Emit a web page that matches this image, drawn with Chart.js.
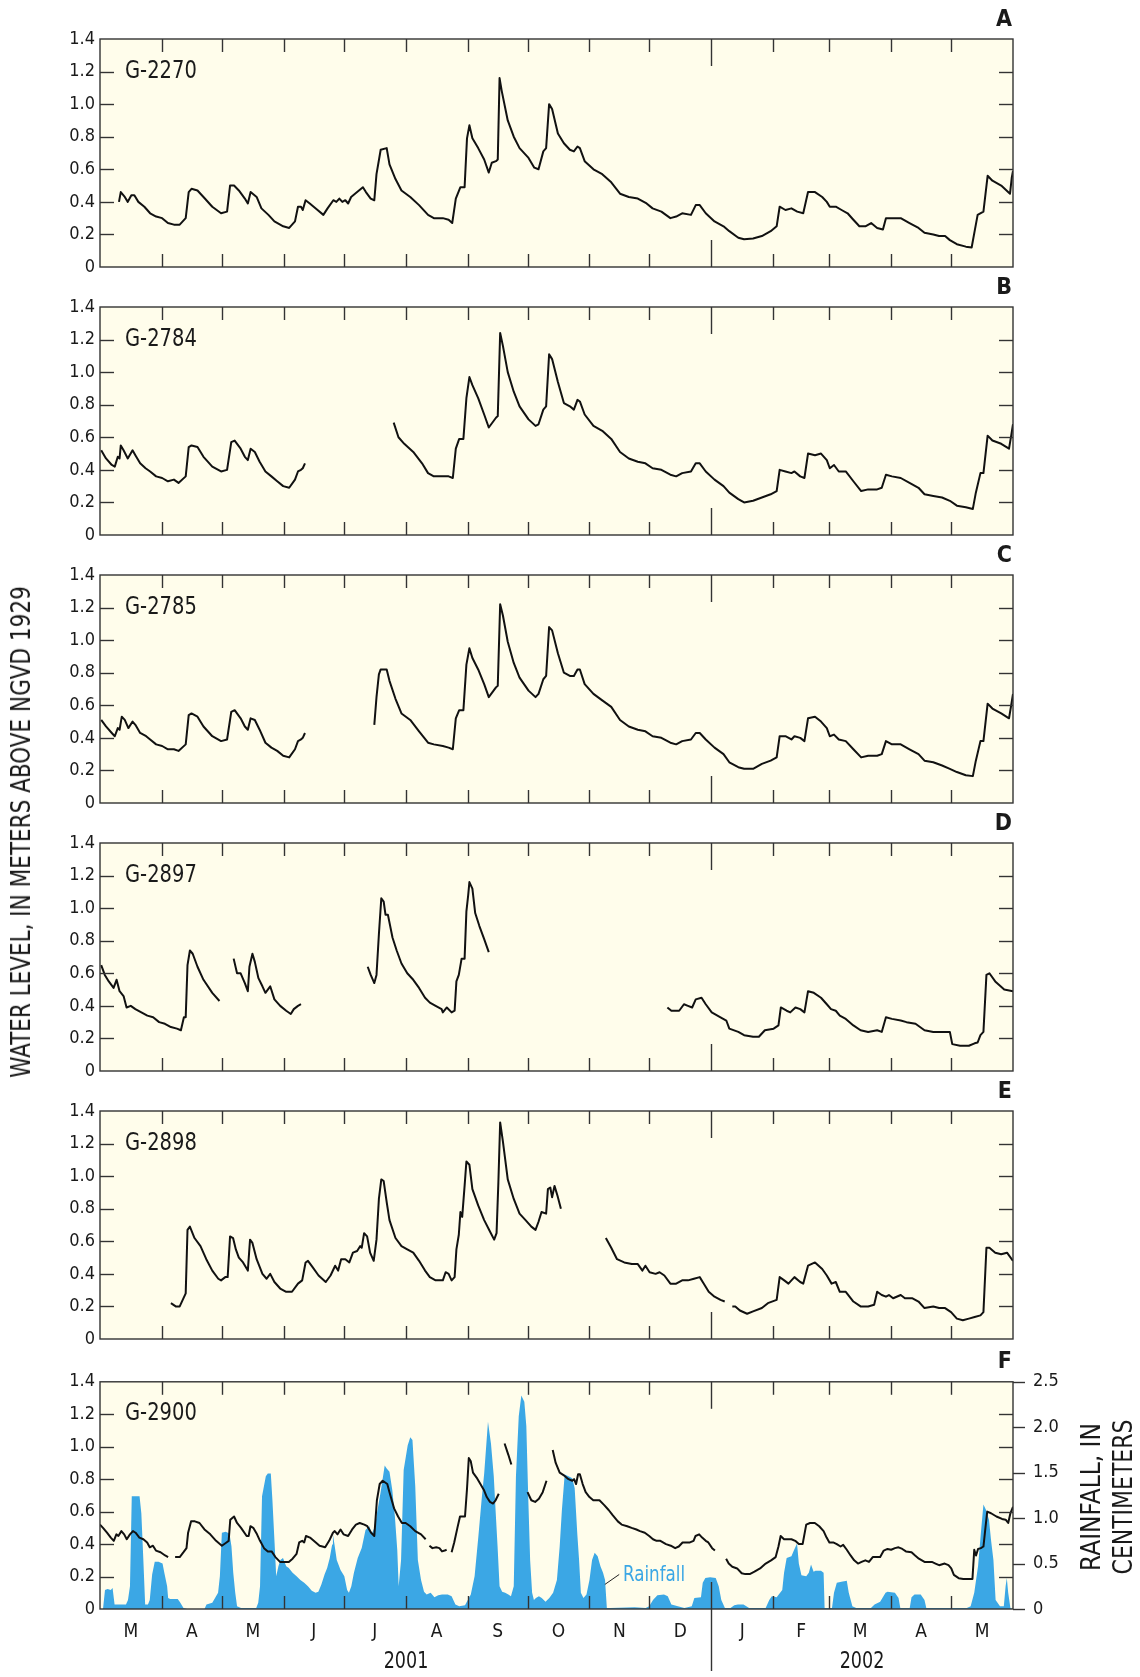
<!DOCTYPE html>
<html lang="en">
<head>
<meta charset="UTF-8">
<title>Water levels and rainfall, March 2001 to May 2002</title>
<script src="https://cdn.jsdelivr.net/npm/chart.js"></script>
<style>
  body {
    margin: 0;
    width: 1140px;
    height: 1677px;
    position: relative;
    overflow: hidden;
    background: #fff;
  }
  canvas { position: absolute; left: 0; }
  .txt {
    position: absolute;
    white-space: nowrap;
    line-height: 1;
    transform-origin: 0 0;
  }
</style>
</head>
<body>
<canvas id="p0"></canvas>
<canvas id="p1"></canvas>
<canvas id="p2"></canvas>
<canvas id="p3"></canvas>
<canvas id="p4"></canvas>
<canvas id="p5"></canvas>
<script>
// ---- axis setup: days counted from 1 March 2001 ----
const monthStart = [0, 31, 61, 92, 122, 153, 184, 214, 245, 275, 306, 337, 365, 396, 426, 457];
const monthNames = ['M', 'A', 'M', 'J', 'J', 'A', 'S', 'O', 'N', 'D', 'J', 'F', 'M', 'A', 'M'];
const yearNames = ['2001', '2002'];
const yearStart = 306;
const levelTicks = [0, 0.2, 0.4, 0.6, 0.8, 1.0, 1.2, 1.4];
const rainTicks = [0, 0.5, 1.0, 1.5, 2.0, 2.5];
const panelLetters = ['A', 'B', 'C', 'D', 'E', 'F'];
const stations = ['G-2270', 'G-2784', 'G-2785', 'G-2897', 'G-2898', 'G-2900'];

// ---- water level, meters above NGVD 1929: [day, level] ----
const g2270 = [[9.5,0.40],[10.4,0.46],[12.4,0.43],[13.9,0.40],[15.7,0.44],[17.2,0.44],[19.2,0.40],[22.2,0.37],[25.1,0.33],[28.1,0.31],[31.1,0.30],[34.0,0.27],[37.0,0.26],[39.9,0.26],[42.9,0.30],[44.4,0.46],[45.8,0.48],[48.8,0.47],[51.8,0.43],[56.2,0.37],[60.6,0.33],[63.6,0.34],[65.1,0.50],[67.1,0.50],[69.5,0.47],[72.5,0.42],[74.0,0.39],[75.4,0.46],[78.4,0.43],[80.8,0.36],[84.3,0.32],[87.3,0.28],[91.7,0.25],[94.7,0.24],[97.6,0.28],[99.1,0.37],[100.6,0.37],[101.5,0.35],[102.9,0.41],[105.0,0.39],[108.9,0.35],[111.8,0.32],[113.9,0.36],[116.8,0.41],[118.3,0.40],[119.8,0.42],[121.3,0.40],[122.8,0.41],[124.2,0.39],[125.7,0.43],[128.7,0.46],[131.6,0.49],[133.1,0.46],[135.5,0.42],[137.3,0.41],[138.4,0.57],[140.5,0.72],[143.5,0.73],[144.9,0.63],[147.9,0.54],[150.9,0.47],[155.3,0.43],[159.7,0.38],[164.2,0.32],[167.1,0.30],[171.6,0.30],[174.5,0.29],[176.3,0.27],[178.1,0.42],[180.4,0.49],[182.5,0.49],[183.7,0.79],[184.9,0.87],[186.4,0.79],[189.3,0.73],[192.3,0.66],[194.6,0.58],[196.1,0.64],[198.2,0.65],[199.1,0.66],[200.0,1.16],[201.1,1.08],[204.1,0.90],[207.1,0.80],[210.0,0.73],[214.5,0.67],[217.4,0.61],[219.5,0.60],[221.9,0.71],[223.3,0.73],[224.8,1.00],[226.3,0.97],[229.2,0.82],[232.2,0.76],[235.2,0.72],[237.2,0.71],[239.0,0.74],[240.2,0.73],[242.6,0.65],[247.0,0.60],[251.4,0.57],[255.9,0.52],[260.3,0.45],[264.7,0.43],[269.2,0.42],[273.6,0.39],[276.6,0.36],[281.0,0.34],[285.5,0.30],[288.4,0.31],[291.4,0.33],[295.8,0.32],[298.2,0.38],[300.2,0.38],[303.2,0.33],[307.6,0.28],[312.1,0.25],[315.0,0.22],[319.5,0.18],[322.4,0.17],[326.9,0.175],[331.3,0.19],[335.7,0.22],[338.7,0.25],[340.2,0.37],[343.1,0.35],[346.1,0.36],[349.0,0.34],[352.0,0.33],[354.4,0.46],[357.9,0.46],[361.5,0.43],[363.8,0.40],[365.3,0.37],[368.3,0.37],[371.2,0.35],[374.2,0.33],[377.1,0.29],[380.1,0.25],[383.1,0.25],[386.0,0.27],[389.0,0.24],[391.9,0.23],[393.4,0.30],[396.4,0.30],[400.8,0.30],[405.2,0.27],[409.7,0.24],[412.7,0.21],[417.1,0.20],[420.0,0.19],[423.0,0.19],[425.4,0.165],[428.9,0.14],[433.4,0.125],[436.3,0.12],[437.8,0.22],[439.3,0.32],[442.2,0.34],[444.3,0.56],[446.7,0.53],[451.1,0.50],[455.5,0.45],[456.4,0.55],[457,0.59]];

const g2784 = [[0.6,0.52],[3.0,0.47],[5.9,0.43],[7.4,0.42],[8.9,0.48],[9.8,0.47],[10.4,0.55],[11.8,0.52],[13.9,0.47],[16.3,0.52],[17.7,0.49],[20.1,0.44],[22.8,0.41],[25.1,0.39],[28.1,0.36],[31.1,0.35],[34.0,0.33],[37.0,0.34],[39.3,0.32],[42.9,0.36],[44.4,0.54],[45.8,0.55],[48.8,0.54],[51.8,0.48],[56.2,0.42],[60.6,0.39],[63.6,0.40],[65.7,0.57],[67.4,0.58],[70.4,0.53],[72.5,0.48],[74.0,0.46],[75.4,0.53],[77.5,0.51],[79.9,0.45],[82.8,0.39],[85.8,0.36],[88.7,0.33],[91.7,0.30],[94.7,0.29],[97.6,0.34],[99.1,0.39],[100.6,0.40],[101.5,0.41],[102.6,0.44],
  [125,null],
  [147.0,0.69],[149.4,0.60],[152.3,0.56],[156.8,0.51],[161.2,0.44],[164.2,0.38],[167.1,0.36],[171.6,0.36],[174.5,0.36],[176.6,0.35],[178.1,0.53],[179.8,0.59],[181.9,0.59],[183.4,0.84],[184.9,0.97],[186.4,0.92],[189.3,0.84],[192.3,0.74],[194.6,0.66],[195.8,0.68],[198.2,0.72],[199.1,0.73],[200.3,1.24],[201.7,1.16],[204.1,1.00],[207.1,0.88],[210.0,0.79],[214.5,0.71],[218.0,0.67],[219.5,0.68],[221.9,0.77],[223.3,0.79],[224.8,1.11],[226.3,1.08],[229.2,0.94],[232.2,0.81],[235.2,0.79],[237.2,0.77],[239.0,0.83],[240.2,0.82],[242.6,0.74],[247.0,0.67],[251.4,0.64],[255.9,0.59],[260.3,0.51],[264.7,0.47],[269.2,0.45],[273.0,0.44],[276.6,0.41],[281.0,0.40],[285.5,0.37],[288.4,0.36],[291.4,0.38],[295.8,0.39],[298.2,0.44],[300.2,0.44],[303.2,0.39],[307.6,0.34],[312.1,0.30],[315.0,0.26],[319.5,0.22],[322.4,0.20],[326.9,0.21],[331.3,0.23],[335.7,0.25],[338.7,0.27],[340.2,0.40],[343.1,0.39],[346.1,0.38],[347.6,0.39],[350.5,0.36],[352.6,0.35],[354.4,0.50],[357.9,0.49],[360.9,0.50],[363.8,0.46],[365.3,0.41],[367.4,0.43],[369.8,0.39],[373.3,0.39],[377.1,0.33],[381.0,0.27],[384.5,0.28],[389.0,0.28],[391.3,0.29],[393.4,0.37],[396.4,0.36],[400.8,0.35],[405.2,0.32],[409.7,0.29],[412.7,0.25],[417.1,0.24],[421.5,0.23],[425.4,0.21],[428.9,0.18],[433.4,0.17],[436.9,0.16],[438.4,0.26],[440.7,0.38],[442.2,0.38],[444.3,0.61],[446.7,0.58],[451.1,0.56],[455.0,0.53],[456.1,0.61],[457,0.68]];

const g2785 = [[0.6,0.51],[3.0,0.47],[5.9,0.43],[7.4,0.41],[8.9,0.46],[9.8,0.45],[10.9,0.53],[12.4,0.51],[14.2,0.46],[16.3,0.50],[17.7,0.48],[20.1,0.43],[23.1,0.41],[25.1,0.39],[28.1,0.36],[31.1,0.35],[34.0,0.33],[37.0,0.33],[39.3,0.32],[42.9,0.36],[44.4,0.54],[45.8,0.55],[48.8,0.53],[51.8,0.47],[56.2,0.41],[60.6,0.38],[63.6,0.39],[65.7,0.56],[67.4,0.57],[70.4,0.52],[72.5,0.47],[74.0,0.45],[75.4,0.52],[77.5,0.51],[79.9,0.45],[82.8,0.37],[85.8,0.34],[88.7,0.32],[91.7,0.29],[94.7,0.28],[97.6,0.33],[99.1,0.38],[100.6,0.39],[101.5,0.40],[102.6,0.43],
  [120,null],
  [137.3,0.48],[138.4,0.65],[139.6,0.79],[140.5,0.82],[143.5,0.82],[144.9,0.75],[147.9,0.64],[150.9,0.55],[155.3,0.51],[159.7,0.44],[164.2,0.37],[167.1,0.36],[171.6,0.35],[174.5,0.34],[176.6,0.33],[178.1,0.52],[179.8,0.57],[181.9,0.57],[183.4,0.85],[184.9,0.95],[186.4,0.89],[189.3,0.82],[192.3,0.73],[194.6,0.65],[195.8,0.67],[198.2,0.71],[199.1,0.72],[200.3,1.22],[201.7,1.15],[204.1,0.99],[207.1,0.86],[210.0,0.77],[214.5,0.69],[218.0,0.65],[219.5,0.67],[221.9,0.76],[223.3,0.78],[224.8,1.08],[226.3,1.06],[229.2,0.92],[232.2,0.80],[235.2,0.78],[237.2,0.78],[239.0,0.82],[240.2,0.82],[242.6,0.73],[247.0,0.67],[251.4,0.63],[255.9,0.59],[260.3,0.51],[264.7,0.47],[269.2,0.45],[273.0,0.44],[276.6,0.41],[281.0,0.40],[285.5,0.37],[288.4,0.36],[291.4,0.38],[295.8,0.39],[298.2,0.43],[300.2,0.43],[303.2,0.39],[307.6,0.34],[312.1,0.30],[315.0,0.25],[319.5,0.22],[322.4,0.21],[326.9,0.21],[331.3,0.24],[335.7,0.26],[338.7,0.28],[340.2,0.41],[343.1,0.41],[346.1,0.39],[347.6,0.41],[350.5,0.40],[352.6,0.38],[354.4,0.52],[357.9,0.53],[360.9,0.50],[363.8,0.46],[365.3,0.41],[367.4,0.42],[369.8,0.39],[373.3,0.38],[377.1,0.33],[381.0,0.28],[384.5,0.29],[389.0,0.29],[391.3,0.30],[393.4,0.38],[396.4,0.36],[400.8,0.36],[405.2,0.33],[409.7,0.30],[412.7,0.26],[417.1,0.25],[421.5,0.23],[425.4,0.21],[428.9,0.19],[433.4,0.17],[436.9,0.165],[438.4,0.26],[440.7,0.38],[442.2,0.38],[444.3,0.61],[446.7,0.58],[451.1,0.55],[455.0,0.52],[456.1,0.60],[457,0.67]];

const g2897 = [[0.6,0.65],[2.4,0.59],[4.4,0.55],[6.8,0.51],[8.3,0.56],[9.8,0.49],[11.8,0.46],[13.3,0.39],[15.4,0.40],[17.7,0.38],[20.7,0.36],[23.7,0.34],[26.6,0.33],[29.6,0.30],[32.5,0.29],[35.5,0.27],[38.5,0.26],[40.5,0.25],[42.0,0.33],[42.9,0.33],[43.8,0.65],[45.0,0.74],[46.4,0.72],[48.8,0.64],[51.8,0.56],[56.2,0.48],[59.8,0.43],
  [63,null],
  [66.9,0.69],[68.6,0.60],[70.4,0.60],[72.5,0.54],[74.0,0.49],[74.8,0.64],[76.3,0.72],[77.5,0.67],[79.3,0.57],[81.3,0.52],[82.8,0.48],[85.2,0.52],[87.3,0.44],[90.2,0.40],[93.2,0.37],[95.5,0.35],[97.0,0.38],[99.1,0.40],[100.6,0.41],
  [118,null],
  [134.0,0.64],[135.5,0.59],[137.3,0.54],[138.4,0.59],[139.6,0.84],[140.8,1.06],[142.0,1.04],[142.9,0.96],[144.1,0.96],[146.4,0.82],[148.5,0.74],[150.9,0.66],[153.8,0.60],[156.8,0.56],[159.7,0.51],[162.7,0.45],[165.1,0.42],[168.0,0.40],[171.0,0.38],[171.6,0.36],[173.6,0.39],[176.0,0.36],[177.5,0.37],[178.4,0.55],[179.6,0.59],[181.0,0.69],[182.5,0.69],[183.4,0.98],[184.3,1.08],[184.9,1.16],[186.4,1.12],[187.8,0.97],[189.9,0.89],[192.3,0.81],[194.6,0.73],
  [240,null],
  [284.0,0.39],[286.0,0.37],[289.9,0.37],[292.3,0.41],[294.3,0.40],[296.4,0.39],[298.2,0.44],[301.1,0.45],[303.2,0.41],[306.2,0.36],[310.6,0.33],[313.5,0.31],[315.0,0.26],[319.5,0.24],[322.4,0.22],[326.9,0.21],[329.8,0.21],[332.8,0.25],[337.2,0.26],[339.6,0.28],[340.8,0.39],[343.7,0.37],[345.5,0.36],[348.1,0.39],[350.5,0.38],[352.6,0.36],[354.4,0.49],[357.3,0.48],[360.9,0.45],[363.8,0.41],[365.9,0.38],[368.3,0.37],[370.3,0.34],[373.3,0.32],[377.1,0.28],[380.7,0.25],[384.5,0.24],[389.0,0.25],[391.3,0.24],[393.4,0.33],[396.4,0.32],[400.8,0.31],[403.7,0.30],[408.2,0.29],[412.7,0.25],[417.1,0.24],[421.5,0.24],[425.4,0.24],[426.6,0.165],[430.5,0.155],[434.9,0.155],[437.8,0.17],[439.3,0.175],[440.7,0.22],[442.2,0.24],[443.7,0.59],[445.2,0.60],[448.1,0.55],[452.6,0.50],[457,0.49]];

const g2898 = [[35.5,0.22],[37.9,0.20],[39.9,0.20],[41.4,0.24],[42.9,0.28],[43.8,0.67],[45.0,0.69],[47.3,0.62],[50.3,0.57],[53.2,0.49],[56.2,0.42],[59.2,0.37],[60.6,0.36],[62.7,0.38],[63.9,0.38],[65.1,0.63],[66.6,0.62],[68.0,0.55],[69.5,0.50],[71.6,0.47],[74.0,0.42],[75.1,0.61],[76.3,0.59],[78.4,0.49],[81.3,0.40],[83.4,0.37],[85.2,0.40],[87.3,0.35],[90.2,0.31],[93.2,0.29],[96.1,0.29],[99.1,0.34],[101.2,0.36],[102.9,0.47],[104.1,0.48],[106.5,0.44],[109.4,0.39],[113.0,0.35],[115.4,0.39],[117.7,0.45],[119.2,0.42],[120.7,0.49],[122.8,0.49],[124.8,0.47],[126.6,0.53],[128.7,0.54],[130.2,0.57],[131.0,0.56],[132.2,0.65],[133.7,0.63],[135.2,0.53],[137.0,0.48],[138.4,0.61],[139.6,0.86],[140.8,0.98],[142.0,0.97],[143.5,0.84],[144.9,0.73],[147.9,0.62],[150.9,0.57],[153.8,0.55],[156.8,0.53],[159.7,0.48],[162.7,0.42],[165.1,0.38],[168.0,0.36],[171.6,0.36],[173.0,0.41],[174.5,0.40],[176.0,0.36],[177.5,0.38],[178.4,0.55],[179.6,0.64],[180.4,0.78],[181.3,0.75],[182.5,0.94],[183.4,1.09],[184.9,1.07],[186.4,0.92],[189.3,0.82],[192.3,0.73],[195.2,0.66],[197.3,0.61],[198.5,0.65],[199.4,0.96],[200.3,1.33],[201.7,1.21],[204.1,0.98],[207.1,0.86],[210.0,0.77],[213.0,0.73],[215.9,0.69],[218.0,0.67],[219.5,0.72],[221.0,0.78],[223.3,0.77],[224.2,0.92],[225.4,0.93],[226.3,0.87],[227.5,0.94],[229.0,0.88],[230.7,0.80],
  [240,null],
  [253.2,0.62],[255.9,0.56],[258.8,0.49],[262.4,0.47],[266.2,0.46],[269.2,0.46],[271.5,0.42],[273.0,0.45],[275.1,0.41],[278.1,0.40],[280.1,0.41],[282.5,0.39],[285.5,0.34],[288.4,0.34],[291.4,0.36],[294.3,0.36],[297.3,0.37],[300.2,0.38],[301.7,0.35],[304.7,0.29],[307.6,0.26],[310.6,0.24],[312.7,0.23],
  [314.5,null],
  [316.5,0.20],[318.0,0.20],[320.3,0.175],[323.9,0.155],[326.9,0.17],[331.3,0.19],[334.3,0.22],[338.7,0.24],[340.2,0.38],[342.5,0.36],[344.6,0.34],[347.6,0.38],[350.5,0.35],[352.0,0.34],[354.4,0.45],[357.9,0.47],[361.5,0.43],[363.8,0.39],[366.2,0.34],[368.3,0.35],[370.3,0.29],[373.3,0.29],[377.1,0.23],[380.7,0.20],[384.5,0.20],[387.5,0.21],[389.0,0.29],[391.3,0.27],[393.4,0.26],[394.9,0.27],[397.0,0.25],[400.8,0.27],[402.9,0.25],[406.7,0.25],[409.7,0.23],[412.7,0.19],[417.1,0.20],[420.0,0.19],[423.0,0.19],[426.0,0.165],[428.9,0.125],[431.9,0.115],[434.9,0.125],[437.8,0.135],[440.7,0.145],[442.2,0.165],[443.7,0.56],[445.2,0.56],[448.1,0.53],[451.1,0.52],[454.0,0.53],[457,0.48]];

const g2900 = [[0,0.52],[1.5,0.50],[3.5,0.47],[5.4,0.44],[6.9,0.42],[8.2,0.46],[9.2,0.45],[10.7,0.48],[12.1,0.46],[13.4,0.43],[15.0,0.46],[16.5,0.48],[17.8,0.47],[19.7,0.44],[21.7,0.43],[23.6,0.41],[24.9,0.38],[26.5,0.39],[28.0,0.36],[30.3,0.35],[32.6,0.33],[34.1,0.32],
  [36,null],
  [37.6,0.32],[39.9,0.32],[41.8,0.35],[43.3,0.375],[44.1,0.47],[45.6,0.54],[47.5,0.54],[49.8,0.53],[52.3,0.49],[55.2,0.46],[58.1,0.42],[61.0,0.39],[63.3,0.41],[64.4,0.42],[65.2,0.55],[67.1,0.57],[68.6,0.53],[70.6,0.50],[73.4,0.45],[74.4,0.45],[75.3,0.51],[76.7,0.50],[78.6,0.46],[80.1,0.42],[82.1,0.375],[84.0,0.355],[85.9,0.355],[87.8,0.32],[90.1,0.29],[92.0,0.29],[94.5,0.29],[96.4,0.31],[98.4,0.34],[99.7,0.41],[101.2,0.42],[102.2,0.41],[103.1,0.45],[105.1,0.44],[107.0,0.42],[109.9,0.39],[112.7,0.38],[114.7,0.42],[116.6,0.47],[117.5,0.48],[118.9,0.46],[120.4,0.49],[121.9,0.46],[124.2,0.45],[126.2,0.49],[128.1,0.52],[130.0,0.53],[132.3,0.52],[133.8,0.51],[135.7,0.47],[137.3,0.45],[138.6,0.67],[140.0,0.77],[141.5,0.79],[143.8,0.77],[144.9,0.72],[147.2,0.62],[149.2,0.57],[151.1,0.53],[153.0,0.53],[155.3,0.51],[157.8,0.48],[160.7,0.46],[163.0,0.43],
  [164,null],
  [164.9,0.39],[166.4,0.375],[168.3,0.38],[169.9,0.375],[171.2,0.355],[172.5,0.36],[173.5,0.365],
  [175,null],
  [176.0,0.35],[177.3,0.41],[178.9,0.50],[180.2,0.57],[181.7,0.57],[182.7,0.57],[183.7,0.74],[184.6,0.93],[185.6,0.91],[186.7,0.84],[188.5,0.81],[190.4,0.77],[192.3,0.73],[193.6,0.69],[195.2,0.66],[196.7,0.65],[198.0,0.67],[199.6,0.71],
  [201,null],
  [202.5,1.02],[204.4,0.95],[205.9,0.89],
  [210,null],
  [214.0,0.72],[215.9,0.67],[217.8,0.66],[219.7,0.68],[221.6,0.72],[223.5,0.79],
  [225,null],
  [226.6,0.98],[228.1,0.90],[230.1,0.84],[232.6,0.82],[234.5,0.80],[236.4,0.79],[237.3,0.80],[238.3,0.77],[239.3,0.83],[240.2,0.83],[241.6,0.77],[243.1,0.72],[245.0,0.69],[246.9,0.67],[250.0,0.67],[252.4,0.64],[254.6,0.61],[256.5,0.58],[259.2,0.54],[261.1,0.52],[263.9,0.51],[266.1,0.50],[268.5,0.49],[270.3,0.48],[272.7,0.47],[274.9,0.45],[276.8,0.43],[278.6,0.42],[280.5,0.42],[283.3,0.40],[285.7,0.39],[287.9,0.375],[289.7,0.385],[291.6,0.41],[293.4,0.41],[295.3,0.41],[297.1,0.42],[298.1,0.45],[299.9,0.46],[301.4,0.44],[303.2,0.42],[304.5,0.41],[306.4,0.375],[307.8,0.36],
  [310,null],
  [313.4,0.31],[314.7,0.28],[316.5,0.26],[318.9,0.25],[321.2,0.22],[323.0,0.215],[325.2,0.215],[327.6,0.23],[330.4,0.25],[333.2,0.28],[335.9,0.30],[338.2,0.32],[339.6,0.385],[340.7,0.45],[342.4,0.43],[344.3,0.43],[346.1,0.43],[348.0,0.42],[349.8,0.40],[351.7,0.40],[353.5,0.52],[355.4,0.53],[357.8,0.53],[360.0,0.51],[362.2,0.48],[363.7,0.44],[365.1,0.41],[367.0,0.41],[368.8,0.40],[370.7,0.385],[372.0,0.395],[373.8,0.365],[375.7,0.33],[377.5,0.30],[379.4,0.28],[381.2,0.29],[383.1,0.30],[384.9,0.29],[386.8,0.32],[388.6,0.32],[390.5,0.32],[392.3,0.36],[394.2,0.37],[396.0,0.365],[397.9,0.375],[399.7,0.38],[401.6,0.37],[403.4,0.355],[406.2,0.35],[408.0,0.33],[409.9,0.31],[412.7,0.29],[414.5,0.29],[416.4,0.29],[418.2,0.28],[420.0,0.27],[422.8,0.28],[424.7,0.27],[426.1,0.25],[427.4,0.21],[429.8,0.19],[432.1,0.185],[434.8,0.185],[436.7,0.185],[437.6,0.365],[438.5,0.33],[439.5,0.37],[440.9,0.375],[442.2,0.385],[443.2,0.50],[444.1,0.60],[446.0,0.59],[448.7,0.57],[451.5,0.555],[453.3,0.55],[454.6,0.53],[455.7,0.59],[457,0.63]];

// ---- daily rainfall, centimeters: [day, rain] ----
const rainfall = [[0,0],[1.5,0],[2.5,0.21],[3.8,0.22],[5.4,0.21],[6.3,0.23],[7.3,0.05],[8.2,0.05],[13.0,0.05],[14.0,0.10],[15.0,0.25],[15.9,1.24],[17.8,1.24],[19.8,1.24],[20.7,1.05],[21.7,0.54],[22.6,0.05],[24.0,0.05],[24.9,0.10],[26.1,0.38],[27.4,0.52],[29.3,0.52],[31.3,0.50],[32.2,0.40],[33.6,0.25],[34.1,0.12],[35.1,0.11],[38.9,0.11],[39.9,0.08],[41.8,0.01],[43.7,0],[52.3,0],[53.3,0.05],[56.2,0.07],[59.1,0.18],[60.0,0.36],[61.0,0.84],[62.9,0.85],[64.8,0.83],[65.8,0.69],[66.7,0.40],[67.7,0.18],[68.6,0.03],[70.6,0.01],[78.2,0.01],[79.2,0.07],[80.1,0.25],[81.1,1.24],[83.0,1.46],[84.0,1.49],[85.5,1.49],[86.3,1.20],[87.4,0.72],[88.2,0.36],[89.3,0.47],[90.3,0.54],[91.6,0.56],[93.2,0.47],[94.5,0.45],[96.4,0.40],[98.4,0.36],[100.3,0.32],[102.2,0.29],[104.1,0.25],[106.0,0.20],[107.9,0.18],[109.3,0.19],[110.8,0.27],[112.4,0.38],[113.7,0.45],[115.0,0.56],[116.2,0.71],[116.6,0.82],[117.5,0.69],[118.5,0.54],[120.4,0.43],[122.3,0.36],[123.7,0.21],[124.6,0.18],[125.8,0.25],[127.1,0.40],[129.0,0.56],[131.0,0.67],[132.9,0.87],[134.8,0.91],[136.1,0.83],[137.7,0.91],[138.6,1.05],[140.5,1.29],[142.5,1.58],[143.4,1.55],[144.9,1.51],[146.3,1.31],[147.6,1.02],[148.8,0.65],[149.5,0.25],[150.7,0.54],[152.0,1.53],[154.0,1.80],[155.3,1.89],[156.4,1.86],[157.8,1.35],[159.1,0.54],[160.7,0.32],[162.2,0.19],[163.5,0.16],[165.5,0.18],[167.4,0.13],[169.3,0.15],[171.2,0.16],[174.1,0.16],[176.0,0.14],[177.9,0.05],[179.8,0.03],[182.7,0.04],[184.1,0.10],[185.6,0.16],[187.5,0.36],[189.4,0.80],[191.0,1.20],[192.3,1.49],[194.2,2.06],[195.7,1.82],[197.1,1.46],[198.0,1.09],[199.0,0.69],[200.0,0.25],[201.3,0.19],[202.8,0.18],[204.4,0.16],[205.7,0.14],[207.1,0.25],[208.2,1.46],[209.6,2.12],[210.9,2.35],[212.4,2.28],[213.4,2.01],[214.3,1.27],[215.3,0.54],[216.3,0.18],[217.2,0.10],[218.2,0.12],[219.7,0.14],[221.1,0.12],[223.0,0.08],[224.9,0.12],[226.8,0.18],[228.7,0.32],[230.1,0.69],[231.2,1.09],[232.6,1.48],[234.5,1.46],[236.4,1.44],[237.6,1.33],[238.9,0.83],[239.8,0.54],[240.7,0.18],[242.0,0.12],[243.5,0.16],[245.0,0.32],[246.3,0.54],[247.6,0.62],[249.1,0.58],[250.5,0.47],[251.8,0.40],[252.8,0.32],[253.7,0.01],[255.5,0.01],[267.6,0.02],[273.1,0.01],[274.9,0.03],[276.8,0.10],[279.0,0.15],[282.3,0.16],[284.2,0.14],[286.0,0.05],[292.5,0.01],[296.2,0.03],[297.5,0.12],[300.8,0.13],[301.7,0.29],[303.0,0.34],[305.4,0.35],[308.2,0.34],[309.7,0.25],[311.0,0.10],[312.8,0.01],[315.6,0.01],[317.5,0.04],[319.3,0.05],[322.1,0.05],[324.9,0.01],[333.2,0.01],[335.0,0.10],[336.3,0.14],[338.7,0.13],[341.5,0.21],[342.4,0.40],[343.7,0.56],[346.1,0.58],[347.4,0.65],[348.9,0.72],[349.8,0.50],[351.1,0.37],[353.5,0.36],[354.8,0.40],[355.9,0.49],[357.2,0.41],[358.1,0.42],[360.9,0.42],[362.2,0.40],[362.7,0.01],[366.4,0.01],[367.4,0.18],[368.8,0.29],[371.1,0.30],[373.8,0.31],[374.8,0.18],[376.6,0.03],[378.5,0.01],[385.9,0.01],[387.7,0.05],[390.5,0.08],[393.2,0.18],[394.2,0.19],[397.9,0.18],[399.7,0.12],[400.6,0.01],[405.3,0.01],[406.2,0.13],[407.7,0.16],[410.8,0.16],[412.7,0.10],[413.6,0.01],[433.9,0.01],[435.8,0.03],[437.6,0.18],[439.5,0.47],[440.9,0.83],[442.2,1.15],[443.5,1.09],[445.0,0.98],[446.0,0.76],[447.2,0.54],[448.3,0.10],[450.5,0.03],[452.4,0.03],[453.3,0.25],[453.9,0.34],[454.6,0.18],[455.7,0.01],[457,0]];

const levelSeries = [g2270, g2784, g2785, g2897, g2898, g2900];

// leader line for the "Rainfall" note, in data units (day, cm)
const rainNote = { fromDay: 252.7, fromCm: 0.27, toDay: 259.9, toCm: 0.38 };

// ---- page layout ----
const FONT = '"Liberation Sans Narrow", "DejaVu Sans Condensed", "Liberation Sans", Arial, sans-serif';
const INK = '#1a1a1a';
const FRAME = '#333';
const PAPER = '#FFFDEB';
const RAIN_BLUE = '#3BA7E5';
const PLOT_LEFT = 100, PLOT_RIGHT = 1013, PLOT_H = 228, PAD = 30;
const plotTops = [39, 307, 575, 843, 1111, 1381];
const PAGE_H = 1677;

function line(ctx, x1, y1, x2, y2) {
  ctx.beginPath();
  ctx.moveTo(x1, y1);
  ctx.lineTo(x2, y2);
  ctx.stroke();
}

// cream fill under the traces, then frame and inward ticks on top
const framePlugin = {
  id: 'frame',
  beforeDatasetsDraw(chart) {
    const { ctx, chartArea: a } = chart;
    ctx.save();
    ctx.fillStyle = PAPER;
    ctx.fillRect(a.left, a.top, a.width, a.height);
    ctx.restore();
  },
  afterDatasetsDraw(chart) {
    const { ctx, chartArea: a, scales } = chart;
    const x = scales.x, y = scales.y, y2 = scales.y2;
    ctx.save();
    ctx.strokeStyle = FRAME;
    ctx.lineWidth = 1.4;
    ctx.strokeRect(a.left, a.top, a.width, a.height);

    monthStart.slice(1, -1).forEach(d => {
      const px = Math.round(x.getPixelForValue(d)) + 0.5;
      const len = d === yearStart ? 27 : 13;
      line(ctx, px, a.top, px, a.top + len);
      if (d === yearStart && y2) {
        line(ctx, px, a.bottom - len, px, chart.height - 6);
      } else {
        line(ctx, px, a.bottom, px, a.bottom - len);
      }
    });

    levelTicks.slice(1, -1).forEach(v => {
      const py = Math.round(y.getPixelForValue(v)) + 0.5;
      line(ctx, a.left, py, a.left + 14, py);
      line(ctx, a.right, py, a.right - 14, py);
    });

    if (y2) {
      rainTicks.forEach(v => {
        const py = Math.round(y2.getPixelForValue(v)) + 0.5;
        line(ctx, a.right, py, a.right + 12, py);
      });
      ctx.lineWidth = 1;
      ctx.strokeStyle = '#222';
      line(ctx, x.getPixelForValue(rainNote.fromDay), y2.getPixelForValue(rainNote.fromCm),
                x.getPixelForValue(rainNote.toDay), y2.getPixelForValue(rainNote.toCm));
    }
    ctx.restore();
  }
};

function levelAxis() {
  return {
    type: 'linear',
    position: 'left',
    min: 0,
    max: 1.4,
    afterBuildTicks: s => { s.ticks = levelTicks.map(v => ({ value: v })); },
    afterFit: s => { s.width = 40; },
    grid: { display: false, drawTicks: false },
    border: { display: false },
    ticks: {
      padding: 5,
      color: INK,
      font: { family: FONT, size: 18 },
      callback: v => (v === 0 ? '0' : v.toFixed(1))
    }
  };
}

function makePanel(i) {
  const last = i === plotTops.length - 1;
  const canvas = document.getElementById('p' + i);
  const top = plotTops[i] - PAD;
  const height = last ? PAGE_H - top : PLOT_H + 2 * PAD;
  canvas.width = 1140;
  canvas.height = height;
  canvas.style.top = top + 'px';
  canvas.style.width = '1140px';
  canvas.style.height = height + 'px';

  const datasets = [{
    data: levelSeries[i].map(([d, v]) => ({ x: d, y: v })),
    yAxisID: 'y',
    borderColor: '#111',
    borderWidth: 2,
    borderJoinStyle: 'round',
    pointRadius: 0,
    spanGaps: false,
    fill: false,
    order: 0
  }];

  // the month axis keeps its box even when hidden, so it takes the space below the plot
  const scales = {
    x: {
      type: 'linear',
      min: 0,
      max: 457,
      display: last,
      grid: { display: false, drawTicks: false },
      border: { display: false },
      afterBuildTicks: s => {
        s.ticks = monthNames.map((m, k) => ({ value: (monthStart[k] + monthStart[k + 1]) / 2 }));
      },
      afterFit: s => { s.height = height - PAD - PLOT_H; },
      ticks: {
        autoSkip: false,
        maxRotation: 0,
        padding: 12,
        color: INK,
        font: { family: FONT, size: 19 },
        callback: (v, k) => monthNames[k]
      }
    },
    y: levelAxis()
  };

  if (last) {
    datasets.push({
      data: rainfall.map(([d, v]) => ({ x: d, y: v })),
      yAxisID: 'y2',
      borderWidth: 0,
      backgroundColor: RAIN_BLUE,
      pointRadius: 0,
      fill: 'origin',
      order: 1
    });
    scales.y2 = {
      type: 'linear',
      position: 'right',
      min: 0,
      max: 2.5,
      afterBuildTicks: s => { s.ticks = rainTicks.map(v => ({ value: v })); },
      afterFit: s => { s.width = 50; },
      grid: { display: false, drawTicks: false },
      border: { display: false },
      ticks: {
        padding: 20,
        color: INK,
        font: { family: FONT, size: 18 },
        callback: v => (v === 0 ? '0' : v.toFixed(1))
      }
    };
  }

  new Chart(canvas.getContext('2d'), {
    type: 'line',
    data: { datasets },
    options: {
      responsive: false,
      animation: false,
      events: [],
      layout: {
        padding: {
          left: PLOT_LEFT - 40,
          right: last ? 1140 - PLOT_RIGHT - 50 : 1140 - PLOT_RIGHT,
          top: PAD,
          bottom: 0
        }
      },
      plugins: { legend: { display: false }, tooltip: { enabled: false } },
      scales
    },
    plugins: [framePlugin]
  });
}

// HTML text: anchored at (x, y), optionally squeezed to a given length and rotated
function addText(txt, o) {
  const el = document.createElement('div');
  el.className = 'txt';
  el.textContent = txt;
  el.style.font = `${o.weight || 'normal'} ${o.size}px ${FONT}`;
  el.style.color = o.color || INK;
  el.style.left = o.x + 'px';
  el.style.top = o.y + 'px';
  document.body.appendChild(el);
  const k = o.fit ? o.fit / el.offsetWidth : 1;
  const tx = o.align === 'right' ? '-100%' : o.align === 'left' ? '0' : '-50%';
  el.style.transform = `rotate(${o.rotate || 0}deg) scaleX(${k}) translate(${tx}, -50%)`;
}

plotTops.forEach((t, i) => {
  makePanel(i);
  addText(panelLetters[i], { x: 1012, y: t - 21, size: 23, weight: 'bold', align: 'right' });
  addText(stations[i], { x: 125, y: t + 30, size: 25, align: 'left', fit: 72 });
});

addText('WATER LEVEL, IN METERS ABOVE NGVD 1929', { x: 21, y: 832, size: 26, rotate: -90, fit: 492 });
addText('RAINFALL, IN', { x: 1091, y: 1497, size: 26, rotate: -90, fit: 148 });
addText('CENTIMETERS', { x: 1123, y: 1497, size: 26, rotate: -90, fit: 155 });
addText(yearNames[0], { x: PLOT_LEFT + (PLOT_RIGHT - PLOT_LEFT) * (yearStart / 2) / 457, y: 1660, size: 23, fit: 45 });
addText(yearNames[1], { x: PLOT_LEFT + (PLOT_RIGHT - PLOT_LEFT) * ((yearStart + 457) / 2) / 457, y: 1660, size: 23, fit: 45 });
addText('Rainfall', { x: 623, y: 1574, size: 21, color: RAIN_BLUE, align: 'left', fit: 62 });
</script>
</body>
</html>
